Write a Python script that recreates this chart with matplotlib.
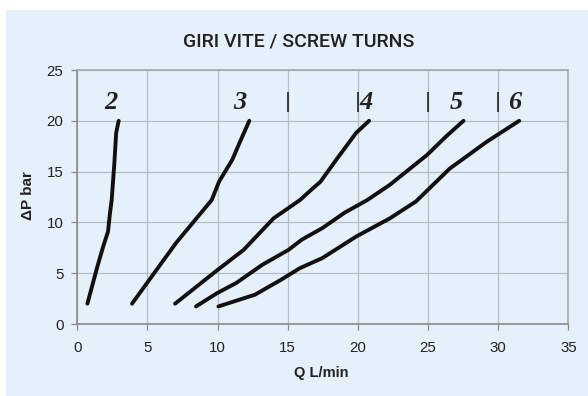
import matplotlib.pyplot as plt
from matplotlib.patches import Rectangle

# flow Q (L/min) vs pressure drop dP (bar) for each screw turn setting
q_2 = [0.72, 1.44, 1.84, 2.19, 2.32, 2.45, 2.64, 2.77, 2.95]
dp_2 = [2.0, 5.7, 7.6, 9.1, 10.8, 12.2, 15.8, 18.8, 20.0]

q_3 = [3.9, 7.05, 9.58, 10.1, 11.06, 11.46, 12.26]
dp_3 = [2.0, 8.0, 12.2, 14.0, 16.2, 17.5, 20.0]

q_4 = [6.97, 9.98, 11.86, 13.99, 15.87, 16.67, 17.33, 18.53, 19.87, 20.8]
dp_4 = [2.0, 5.3, 7.3, 10.4, 12.2, 13.2, 14.0, 16.3, 18.8, 20.0]

q_5 = [8.46, 9.98, 11.32, 13.19, 15.06, 16.0, 17.47, 19.07, 20.67, 22.28, 24.94, 26.28, 27.53]
dp_5 = [1.73, 3.05, 4.03, 5.83, 7.3, 8.3, 9.44, 10.97, 12.2, 13.7, 16.65, 18.45, 20.0]

q_6 = [10.06, 12.66, 14.53, 15.87, 17.47, 19.87, 22.28, 24.14, 26.55, 29.2, 31.5]
dp_6 = [1.73, 2.88, 4.36, 5.5, 6.49, 8.6, 10.4, 12.06, 15.3, 17.95, 20.0]

curves = [("2", q_2, dp_2), ("3", q_3, dp_3), ("4", q_4, dp_4),
          ("5", q_5, dp_5), ("6", q_6, dp_6)]
label_x = [2.4, 11.55, 20.6, 27.0, 31.2]
label_y = 21.85
marker_x = [15, 20, 25, 30]

bg = "#e6f0fa"
grid_col = "#b4bcc4"

fig = plt.figure(figsize=(5.88, 3.96), dpi=100)
fig.patch.set_facecolor("white")
fig.patches.append(Rectangle((6 / 588, 0), 1, (396 - 10) / 396,
                             transform=fig.transFigure, facecolor=bg,
                             edgecolor="none", zorder=-10))

ax = fig.add_axes([77.3 / 588, 1 - 324 / 396, 491 / 588, 254 / 396])
ax.set_facecolor(bg)
ax.set_xlim(0, 35)
ax.set_ylim(0, 25)
ax.set_xticks(range(0, 36, 5))
ax.set_yticks(range(0, 26, 5))
ax.grid(True, color=grid_col, linewidth=0.9)
ax.set_axisbelow(True)

for side in ["left", "bottom"]:
    ax.spines[side].set_color("#8a8a8a")
for side in ["top", "right"]:
    ax.spines[side].set_color("#a8a8a8")
for sp in ax.spines.values():
    sp.set_linewidth(1.2)

ax.tick_params(axis="both", direction="out", length=4, width=0.9,
               color="#8a8a8a", labelsize=10.8, labelcolor="#222222")
ax.tick_params(axis="x", pad=8)
ax.tick_params(axis="y", pad=6)
for lab in ax.get_xticklabels() + ax.get_yticklabels():
    lab.set_family("Liberation Sans")

for (name, q, dp), lx in zip(curves, label_x):
    ax.plot(q, dp, color="#111111", linewidth=2.8,
            solid_capstyle="round", solid_joinstyle="round", zorder=3)
    ax.text(lx, label_y, name, ha="center", va="center", fontsize=19,
            family="Liberation Serif", style="italic", weight="bold",
            color="#222222", zorder=4)

ax.vlines(marker_x, 20.9, 22.8, color="#111111", linewidth=1.1, zorder=4)

fig.text(321.5 / 588, 1 - 373 / 396, "Q L/min", family="Liberation Sans",
         weight="bold", fontsize=10.5, color="#222222",
         ha="center", va="center")
fig.text(28.3 / 588, 1 - 196 / 396, "ΔP bar", family="Liberation Sans",
         weight="bold", fontsize=11, color="#222222", rotation=90,
         ha="center", va="center")

fig.text(298.6 / 588, 1 - 41 / 396, "GIRI VITE / SCREW TURNS",
         family="Roboto", weight="medium", fontsize=14,
         color="#222222", ha="center", va="center")

fig.savefig("out.png", dpi=100)
